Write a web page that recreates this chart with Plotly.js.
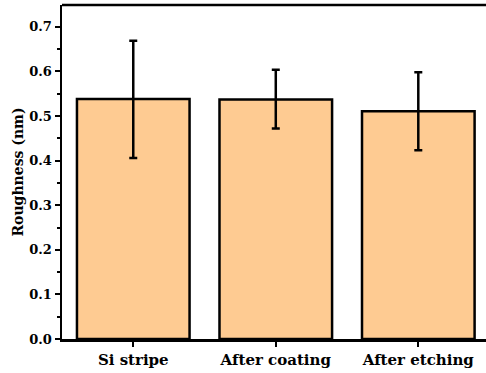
<!DOCTYPE html>
<html>
<head>
<meta charset="utf-8">
<script src="https://cdn.plot.ly/plotly-3.0.1.min.js"></script>
<style>html,body{margin:0;padding:0;background:#fff;}#chart{width:486px;height:373px;}</style>
</head>
<body>
<div id="chart"></div>
<script>
const categories = ["Si stripe", "After coating", "After etching"];
const roughness = [0.538, 0.537, 0.511];
const errPlus = [0.131, 0.067, 0.087];
const errMinus = [0.132, 0.065, 0.088];

const SERIF = "DejaVu Serif";

const trace = {
  type: "bar",
  x: categories,
  y: roughness,
  width: 0.79,
  marker: {color: "#FECB92", line: {color: "#000", width: 2.5}},
  error_y: {type: "data", symmetric: false, array: errPlus, arrayminus: errMinus,
            color: "#000", thickness: 2.5, width: 4}
};

const layout = {
  width: 486, height: 373,
  margin: {l: 62, r: 0, t: 5, b: 34},
  paper_bgcolor: "#fff", plot_bgcolor: "#fff",
  showlegend: false,
  font: {family: SERIF, color: "#000"},
  xaxis: {
    range: [-0.5, 2.475],
    showline: true, linecolor: "#000", linewidth: 2.5,
    ticks: "outside", ticklen: 5, tickwidth: 2, tickcolor: "#000",
    tickfont: {size: 15, family: SERIF, weight: "bold"},
    showgrid: false, zeroline: false,
    minor: {ticks: "outside", ticklen: 3, tickwidth: 2, tickcolor: "#000"}
  },
  yaxis: {
    range: [0, 0.749],
    dtick: 0.1, tickformat: ".1f",
    showline: true, linecolor: "#000", linewidth: 2.5,
    ticks: "outside", ticklen: 5, tickwidth: 2, tickcolor: "#000",
    tickfont: {size: 13, family: SERIF, weight: "bold"},
    showgrid: false, zeroline: false,
    minor: {dtick: 0.05, ticks: "outside", ticklen: 3, tickwidth: 2, tickcolor: "#000"},
    title: {text: "Roughness (nm)", font: {size: 14, family: SERIF, weight: "bold"}, standoff: 3}
  },
  shapes: [{type: "line", xref: "paper", yref: "paper", x0: 0, x1: 1, y0: 1, y1: 1,
            line: {color: "#000", width: 2.5}}]
};

Plotly.newPlot("chart", [trace], layout, {staticPlot: true, displayModeBar: false});
</script>
</body>
</html>
